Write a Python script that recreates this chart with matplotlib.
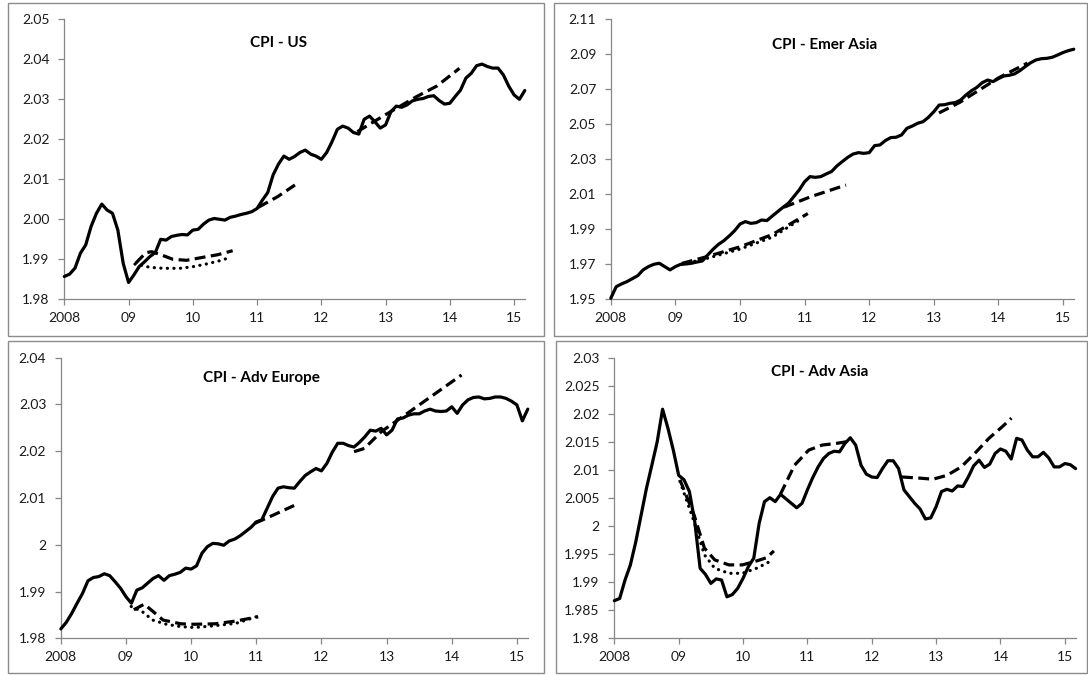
import numpy as np
import matplotlib
matplotlib.use("Agg")
import matplotlib.pyplot as plt
from matplotlib.patches import Rectangle

plt.rcParams['font.family'] = ['Lato', 'DejaVu Sans']

# ---------------- data ----------------
start_year = 2008.0
year_ticks = [2008, 2009, 2010, 2011, 2012, 2013, 2014, 2015]
year_labels = ['2008', '09', '10', '11', '12', '13', '14', '15']

# CPI - US (monthly, Jan 2008 onward)
us_cpi = [1.9857, 1.9863, 1.9878, 1.9915, 1.9936, 1.9982, 2.0015, 2.0038, 2.0023, 2.0015,
          1.9973, 1.9890, 1.9842, 1.9861, 1.9882, 1.9894, 1.9907, 1.9917, 1.9950, 1.9948,
          1.9957, 1.9960, 1.9962, 1.9961, 1.9973, 1.9975, 1.9988, 1.9998, 2.0002, 2.0000,
          1.9998, 2.0005, 2.0008, 2.0012, 2.0015, 2.0019, 2.0027, 2.0048, 2.0067, 2.0111,
          2.0138, 2.0158, 2.0150, 2.0157, 2.0167, 2.0173, 2.0163, 2.0158, 2.0150, 2.0167,
          2.0194, 2.0225, 2.0233, 2.0228, 2.0217, 2.0213, 2.0250, 2.0258, 2.0244, 2.0228,
          2.0236, 2.0269, 2.0283, 2.0280, 2.0286, 2.0296, 2.0300, 2.0302, 2.0307, 2.0309,
          2.0297, 2.0288, 2.0290, 2.0307, 2.0323, 2.0353, 2.0365, 2.0384, 2.0388, 2.0382,
          2.0378, 2.0378, 2.0361, 2.0333, 2.0311, 2.0300, 2.0322]
us_dash1_x = [2009.11, 2009.27, 2009.36, 2009.51, 2009.69, 2009.90, 2010.16, 2010.39, 2010.62]
us_dash1_y = [1.9890, 1.99165, 1.9919, 1.9911, 1.9900, 1.98975, 1.9905, 1.99115, 1.99215]
us_dot1_x = [2009.10, 2009.18, 2009.33, 2009.54, 2009.80, 2010.00, 2010.21, 2010.42, 2010.54]
us_dot1_y = [1.9888, 1.98857, 1.9880, 1.98775, 1.98775, 1.98815, 1.98882, 1.98965, 1.99025]
us_dash2_x = [2011.02, 2011.32, 2011.59]
us_dash2_y = [2.0030, 2.00566, 2.00858]
us_dash3_x = [2012.56, 2012.99, 2013.48, 2013.80, 2014.15]
us_dash3_y = [2.0219, 2.02607, 2.03065, 2.03333, 2.03775]

# CPI - Emer Asia
ea_cpi = [1.9506, 1.9572, 1.9588, 1.9601, 1.9618, 1.9635, 1.9668, 1.9687, 1.9700, 1.9706,
          1.9687, 1.9668, 1.9687, 1.9700, 1.9702, 1.9706, 1.9713, 1.9719, 1.9753, 1.9786,
          1.9814, 1.9835, 1.9862, 1.9892, 1.9930, 1.9944, 1.9934, 1.9938, 1.9953, 1.9950,
          1.9976, 2.0001, 2.0026, 2.0049, 2.0087, 2.0125, 2.0172, 2.0201, 2.0197, 2.0201,
          2.0216, 2.0230, 2.0262, 2.0287, 2.0311, 2.0330, 2.0338, 2.0334, 2.0338, 2.0378,
          2.0382, 2.0407, 2.0424, 2.0426, 2.0439, 2.0477, 2.0490, 2.0506, 2.0515, 2.0540,
          2.0572, 2.0610, 2.0612, 2.0620, 2.0624, 2.0639, 2.0668, 2.0692, 2.0711, 2.0738,
          2.0753, 2.0744, 2.0761, 2.0776, 2.0780, 2.0788, 2.0807, 2.0830, 2.0852, 2.0868,
          2.0875, 2.0877, 2.0883, 2.0896, 2.0910, 2.0921, 2.0929]
ea_dash1_x = [2009.10, 2009.50, 2010.00, 2010.50, 2011.05]
ea_dash1_y = [1.9705, 1.9745, 1.9800, 1.9870, 1.9990]
ea_dot1_x = [2009.10, 2009.50, 2010.00, 2010.50, 2010.95]
ea_dot1_y = [1.9700, 1.9735, 1.9787, 1.9855, 1.9960]
ea_dash2_x = [2010.68, 2011.10, 2011.64]
ea_dash2_y = [2.0026, 2.0087, 2.0153]
ea_dash3_x = [2013.08, 2013.40, 2013.70, 2014.00, 2014.45]
ea_dash3_y = [2.0565, 2.0625, 2.0695, 2.0765, 2.0850]

# CPI - Adv Europe
ae_cpi = [1.9820, 1.9834, 1.9853, 1.9875, 1.9896, 1.9923, 1.9930, 1.9932, 1.9938, 1.9934,
          1.9921, 1.9907, 1.9889, 1.9875, 1.9903, 1.9908, 1.9918, 1.9928, 1.9934, 1.9924,
          1.9934, 1.9937, 1.9941, 1.9950, 1.9948, 1.9955, 1.9982, 1.9996, 2.0003, 2.0002,
          1.9999, 2.0008, 2.0012, 2.0019, 2.0028, 2.0037, 2.0049, 2.0053, 2.0078, 2.0103,
          2.0121, 2.0124, 2.0122, 2.0121, 2.0135, 2.0148, 2.0156, 2.0163, 2.0158, 2.0174,
          2.0198, 2.0217, 2.0217, 2.0212, 2.0209, 2.0219, 2.0231, 2.0245, 2.0243, 2.0249,
          2.0235, 2.0245, 2.0269, 2.0271, 2.0277, 2.0280, 2.0280, 2.0286, 2.0290, 2.0286,
          2.0285, 2.0286, 2.0295, 2.0281, 2.0299, 2.0310, 2.0315, 2.0316, 2.0312, 2.0313,
          2.0316, 2.0316, 2.0313, 2.0307, 2.0299, 2.0265, 2.0290]
ae_dot1_x = [2009.08, 2009.25, 2009.41, 2009.62, 2009.84, 2010.05, 2010.37, 2010.69, 2011.00]
ae_dot1_y = [1.9868, 1.9857, 1.9839, 1.9830, 1.9825, 1.9823, 1.9827, 1.9832, 1.9846]
ae_dash1_x = [2009.12, 2009.28, 2009.41, 2009.57, 2009.84, 2010.05, 2010.37, 2010.69, 2011.03]
ae_dash1_y = [1.9861, 1.9873, 1.9858, 1.9839, 1.9831, 1.9830, 1.9831, 1.9837, 1.9846]
ae_dash2_x = [2010.98, 2011.27, 2011.58]
ae_dash2_y = [2.0046, 2.0064, 2.0084]
ae_dash3_x = [2012.50, 2012.66, 2012.92, 2013.46, 2014.15]
ae_dash3_y = [2.0199, 2.0206, 2.0242, 2.0295, 2.0363]

# CPI - Adv Asia
aa_cpi = [1.9866, 1.9870, 1.9903, 1.9930, 1.9971, 2.0019, 2.0067, 2.0108, 2.0150, 2.0208,
          2.0174, 2.0135, 2.0090, 2.0082, 2.0061, 2.0007, 1.9924, 1.9913, 1.9897, 1.9905,
          1.9903, 1.9873, 1.9877, 1.9888, 1.9906, 1.9927, 1.9942, 2.0004, 2.0043, 2.0050,
          2.0043, 2.0056, 2.0048, 2.0040, 2.0032, 2.0040, 2.0064, 2.0086, 2.0105, 2.0120,
          2.0129, 2.0133, 2.0132, 2.0147, 2.0157, 2.0144, 2.0108, 2.0092, 2.0087, 2.0086,
          2.0102, 2.0116, 2.0116, 2.0102, 2.0064, 2.0052, 2.0040, 2.0030, 2.0012, 2.0014,
          2.0034, 2.0061, 2.0065, 2.0062, 2.0071, 2.0070, 2.0087, 2.0107, 2.0117, 2.0104,
          2.0110, 2.0129, 2.0137, 2.0133, 2.0119, 2.0156, 2.0153, 2.0135, 2.0123, 2.0123,
          2.0131, 2.0121, 2.0105, 2.0105, 2.0111, 2.0109, 2.0102]
aa_dash1_x = [2009.02, 2009.24, 2009.40, 2009.56, 2009.78, 2009.99, 2010.21, 2010.37, 2010.48]
aa_dash1_y = [2.0082, 2.0019, 1.9960, 1.9939, 1.9930, 1.9930, 1.9937, 1.9943, 1.9955]
aa_dot1_x = [2009.02, 2009.24, 2009.40, 2009.56, 2009.78, 2009.99, 2010.21, 2010.40]
aa_dot1_y = [2.0079, 2.0007, 1.9948, 1.9924, 1.9915, 1.9915, 1.9924, 1.9935]
aa_dash2_x = [2010.58, 2010.80, 2011.02, 2011.23, 2011.45, 2011.61]
aa_dash2_y = [2.0056, 2.0108, 2.0135, 2.0144, 2.0147, 2.0150]
aa_dash3_x = [2012.47, 2012.74, 2012.95, 2013.17, 2013.39, 2013.60, 2013.82, 2014.03, 2014.17]
aa_dash3_y = [2.0087, 2.0085, 2.0083, 2.0090, 2.0105, 2.0129, 2.0156, 2.0177, 2.0192]

# ---------------- figure ----------------
fig = plt.figure(figsize=(10.88, 6.75), dpi=100)
W, H = 1088.0, 675.0

def px_rect(x0, y0, x1, y1):
    return [x0 / W, 1 - y1 / H, (x1 - x0) / W, (y1 - y0) / H]

# panel frames
for (x0, y0, x1, y1) in [(8, 3, 544, 336), (554, 3, 1087, 336),
                         (8, 341, 544, 673), (556, 341, 1087, 673)]:
    r = px_rect(x0, y0, x1, y1)
    fig.patches.append(Rectangle((r[0], r[1]), r[2], r[3], transform=fig.transFigure,
                                 fill=False, edgecolor='#8c8c8c', linewidth=1.0))

LW = 2.3
DASH = (3.4, 1.7)
DOT = (0.05, 2.0)

panels = [
    dict(rect=px_rect(64.3, 19.3, 525, 299.3), title='CPI - US', tpos=(0.464, 0.915),
         ylim=(1.98, 2.05), yt=[1.98, 1.99, 2.00, 2.01, 2.02, 2.03, 2.04, 2.05],
         ylab=['1.98', '1.99', '2.00', '2.01', '2.02', '2.03', '2.04', '2.05'],
         cpi=us_cpi,
         dashed=[(us_dash1_x, us_dash1_y), (us_dash2_x, us_dash2_y), (us_dash3_x, us_dash3_y)],
         dotted=[(us_dot1_x, us_dot1_y)]),
    dict(rect=px_rect(610.8, 19.3, 1074, 299.3), title='CPI - Emer Asia', tpos=(0.462, 0.908),
         ylim=(1.95, 2.11), yt=[1.95, 1.97, 1.99, 2.01, 2.03, 2.05, 2.07, 2.09, 2.11],
         ylab=['1.95', '1.97', '1.99', '2.01', '2.03', '2.05', '2.07', '2.09', '2.11'],
         cpi=ea_cpi,
         dashed=[(ea_dash1_x, ea_dash1_y), (ea_dash2_x, ea_dash2_y), (ea_dash3_x, ea_dash3_y)],
         dotted=[(ea_dot1_x, ea_dot1_y)]),
    dict(rect=px_rect(60.8, 357.7, 528, 638.3), title='CPI - Adv Europe', tpos=(0.43, 0.928),
         ylim=(1.98, 2.04), yt=[1.98, 1.99, 2.00, 2.01, 2.02, 2.03, 2.04],
         ylab=['1.98', '1.99', '2', '2.01', '2.02', '2.03', '2.04'],
         cpi=ae_cpi,
         dashed=[(ae_dash1_x, ae_dash1_y), (ae_dash2_x, ae_dash2_y), (ae_dash3_x, ae_dash3_y)],
         dotted=[(ae_dot1_x, ae_dot1_y)]),
    dict(rect=px_rect(614.3, 357.7, 1075.8, 637.7), title='CPI - Adv Asia', tpos=(0.446, 0.949),
         ylim=(1.98, 2.03),
         yt=[1.98, 1.985, 1.99, 1.995, 2.00, 2.005, 2.01, 2.015, 2.02, 2.025, 2.03],
         ylab=['1.98', '1.985', '1.99', '1.995', '2', '2.005', '2.01', '2.015', '2.02', '2.025', '2.03'],
         cpi=aa_cpi,
         dashed=[(aa_dash1_x, aa_dash1_y), (aa_dash2_x, aa_dash2_y), (aa_dash3_x, aa_dash3_y)],
         dotted=[(aa_dot1_x, aa_dot1_y)]),
]

for p in panels:
    ax = fig.add_axes(p['rect'])
    x = start_year + np.arange(len(p['cpi'])) / 12.0
    ax.plot(x, p['cpi'], color='black', linewidth=LW, solid_joinstyle='round',
            solid_capstyle='round', clip_on=False, zorder=3)
    for (fx, fy) in p['dashed']:
        ax.plot(fx, fy, color='black', linewidth=LW, dashes=DASH,
                dash_capstyle='butt', clip_on=False, zorder=2)
    for (fx, fy) in p['dotted']:
        ax.plot(fx, fy, color='black', linewidth=LW, dashes=DOT,
                dash_capstyle='round', clip_on=False, zorder=2)
    ax.set_xlim(2008.0, 2015.17)
    ax.set_ylim(*p['ylim'])
    ax.set_xticks(year_ticks)
    ax.set_xticklabels(year_labels)
    ax.set_yticks(p['yt'])
    ax.set_yticklabels(p['ylab'])
    for s in ['top', 'right']:
        ax.spines[s].set_visible(False)
    for s in ['left', 'bottom']:
        ax.spines[s].set_color('#868686')
        ax.spines[s].set_linewidth(0.9)
    ax.tick_params(axis='y', direction='out', length=4.5, width=0.9, color='#868686',
                   labelsize=10, pad=6, labelcolor='#1a1a1a')
    ax.tick_params(axis='x', direction='out', length=4.5, width=0.9, color='#868686',
                   labelsize=10, pad=5, labelcolor='#1a1a1a')
    ax.set_facecolor('none')
    ax.text(p['tpos'][0], p['tpos'][1], p['title'], transform=ax.transAxes,
            ha='center', va='center', fontsize=11, fontweight='bold', color='black')

fig.savefig('out.png', dpi=100, facecolor='white')
